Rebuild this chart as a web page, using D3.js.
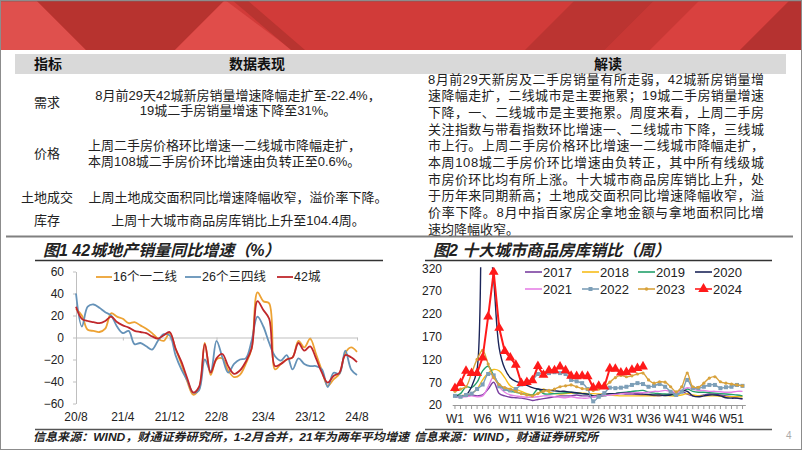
<!DOCTYPE html>
<html>
<head>
<meta charset="utf-8">
<script src="https://cdn.jsdelivr.net/npm/d3@7"></script>
<style>
body{margin:0;background:#fff;}
svg{display:block;font-family:"Liberation Sans","Noto Sans CJK SC",sans-serif;}
</style>
</head>
<body>
<script>
// ---- 图1: 42城地产销量同比增速, 月度 20/8 - 24/8 ----
var monthTicks = ["20/8","21/4","21/12","22/8","23/4","23/12","24/8"];
var tier12 = [26,20,7,6,5,8,22,19,17,13, 14,11,8,4,-1,-3,4,-10,-24,-40,
              -52,-47,-5,-34,-20,-19,-30,-36,-34,-24, -10,41,33,31,-29,-24,-20,-18,-3,-9,
              -1,-15,-30,-44,-38,-33,-14,-9,-13];
var tier34 = [40,10,28,30,27,23,20,10,4,6, -6,-5,-8,-11,-3,3,2,-16,-29,-39,
              -50,-48,-20,-31,-3,-18,-32,-24,-20,-19, -3,19,10,-5,-17,-21,-16,-29,-19,-24,
              -26,-26,-29,-45,-32,-33,-12,-29,-34];
var city42 = [28,17,15,14,13,15,19,14,11,9, 6,5,4,1,-1,2,5,-10,-22,-37,
              -50,-45,-6,-32,-19,-15,-26,-33,-30,-22, -10,33,25,17,-26,-24,-20,-18,-5,-12,
              -8,-19,-32,-41,-35,-32,-16,-18,-22.4];
var leftNames = ["16个一二线","26个三四线","42城"];

// ---- 图2: 十大城市商品房库销比(周) ----
var weekLabels = ["W1","W6","W11","W16","W21","W26","W31","W36","W41","W46","W51"];
var y2017 = [38,38,40,42,40,42,55,70,45,40, 37,36,35,33,30,32,34,36,38,40, 40,40,42,40,40,38,40,42,44,45,
             45,44,44,43,42,42,41,40,42,45, 48,50,44,40,40,42,44,44,42,40, 38,35,33];
var y2018 = [40,40,42,45,55,75,90,98,95,80, 62,55,50,45,42,45,55,48,45,44, 45,46,47,46,45,45,44,43,42,41,
             40,40,40,40,40,40,40,41,41,40, 40,42,45,42,40,40,40,40,39,38, 38,38,38];
var y2019 = [40,45,60,58,70,95,105,85,65,55, 50,48,45,43,42,55,45,44,45,46, 47,48,46,45,44,40,38,40,43,45,
             47,48,50,51,52,48,46,45,44,43, 42,48,55,50,48,48,47,46,45,44, 43,42,40];
var y2020 = [40,40,42,60,98,600,420,295,145,100, 80,72,68,63,58,55,53,52,51,50, 50,48,47,45,44,40,42,44,45,45,
             46,47,46,45,44,43,42,42,41,42, 48,52,50,40,38,40,42,42,40,36, 35,35,34];
var y2021 = [38,38,38,40,38,40,60,82,60,48, 42,40,38,37,37,38,40,40,38,37, 36,38,36,35,35,38,40,40,42,43,
             45,46,46,47,47,48,50,50,52,50, 48,52,58,55,52,52,50,50,49,48, 48,50,50];
var y2022 = [40,38,42,45,55,65,88,85,61,55, 52,55,65,72,75,88,90,90,92,90, 88,75,72,68,55,28,38,46,58,57,
             58,60,64,68,66,60,62,66,60,49, 42,49,75,57,57,60,64,64,57,59, 60,64,62];
var y2023 = [50,55,60,90,120,140,110,80,65,58, 55,50,45,42,40,45,50,52,55,60, 62,64,60,56,55,52,55,60,70,80,
             85,82,84,88,90,75,68,71,70,60, 49,60,90,60,59,68,79,82,71,68, 66,64,62];
var y2024 = [57,68,95,90,90,124,214,312,189,138, 124,108,68,70,74,105,86,96,96,104, 96,84,83,84,83,58,62,60,100,99,
             91,92,97,101,104.4];
var years = ["2017","2018","2019","2020","2021","2022","2023","2024"];
var yearColors = ["#7a3fa0","#f7bd1a","#23a06a","#1c2559","#e681e6","#7d9fb8","#d8a23c","#ff1a1a"];

// ---- 表格文字 ----
var rowNames = ["需求","价格","土地成交","库存"];
var dataLines = [
  ["8月前29天42城新房销量增速降幅走扩至-22.4%，","19城二手房销量增速下降至31%。"],
  ["上周二手房价格环比增速一二线城市降幅走扩，","本周108城二手房价环比增速由负转正至0.6%。"],
  ["上周土地成交面积同比增速降幅收窄，溢价率下降。"],
  ["上周十大城市商品房库销比上升至104.4周。"]
];
var readLines = [
  "8月前29天新房及二手房销量有所走弱，42城新房销量增",
  "速降幅走扩，二线城市是主要拖累；19城二手房销量增速",
  "下降，一、二线城市是主要拖累。周度来看，上周二手房",
  "关注指数与带看指数环比增速一、二线城市下降，三线城",
  "市上行。上周二手房价格环比增速一二线城市降幅走扩，",
  "本周108城二手房价环比增速由负转正，其中所有线级城",
  "市房价环比均有所上涨。十大城市商品房库销比上升，处",
  "于历年来同期新高；土地成交面积同比增速降幅收窄，溢",
  "价率下降。8月中指百家房企拿地金额与拿地面积同比增",
  "速均降幅收窄。"
];

var W = 802, H = 451;
var svg = d3.select("body").append("svg").attr("width", W).attr("height", H);

//banner
var banner = svg.append("g");
banner.append("rect").attr("width", W).attr("height", 50).attr("fill", "#d13b39");
var shapes = [
  {p:[[0,0],[36,0],[86,50],[0,50]], c:"#df504d"},
  {p:[[36,0],[225,0],[175,50],[86,50]], c:"#b7332f"},
  {p:[[225,0],[292,50],[175,50]], c:"#e04d4a"},
  {p:[[232,0],[247,0],[305,50],[291,50]], c:"#b83430"},
  {p:[[575,0],[655,0],[605,50],[525,50]], c:"#bb3431"},
  {p:[[655,0],[700,0],[650,50],[605,50]], c:"#c83835"},
  {p:[[700,0],[790,0],[740,50],[650,50]], c:"#d9413f"},
  {p:[[790,0],[802,0],[802,50],[740,50]], c:"#b53230"}
];
banner.selectAll("polygon").data(shapes).enter().append("polygon")
  .attr("points", d => d.p.map(q => q.join(",")).join(" "))
  .attr("fill", d => d.c);
banner.append("rect").attr("width", W).attr("height", 2).attr("fill", "#8a5a5a").attr("opacity", 0.5);

// page border
svg.append("rect").attr("x", 0.5).attr("y", 0.5).attr("width", W - 1).attr("height", 449)
  .attr("fill", "none").attr("stroke", "#8c8c8c");

// table
svg.append("rect").attr("x", 15).attr("y", 54).attr("width", 771).attr("height", 20).attr("fill", "#d9d9d9");
var heads = [["指标",48],["数据表现",257],["解读",608]];
svg.selectAll(".head").data(heads).enter().append("text")
  .attr("x", d => d[1]).attr("y", 64).attr("dy", "0.35em")
  .attr("text-anchor", "middle").attr("font-size", "14px").attr("font-weight", "bold")
  .attr("fill", "#111").text(d => d[0]);

var rowY = [[95,110],[145,161],[197],[220]];
svg.selectAll(".rowname").data(rowNames).enter().append("text")
  .attr("x", 47).attr("y", (d,i) => d3.mean(rowY[i])).attr("dy", "0.35em")
  .attr("text-anchor", "middle").attr("font-size", "13px").attr("fill", "#222").text(d => d);

dataLines.forEach((lines, i) => {
  lines.forEach((t, j) => {
    var tx = svg.append("text").attr("y", rowY[i][j]).attr("dy", "0.35em")
      .attr("font-size", "13px").attr("fill", "#222").text(t);
    if (i == 1) tx.attr("x", 88);
    else tx.attr("x", 238).attr("text-anchor", "middle");
  });
});

readLines.forEach((t, i) => {
  var tx = svg.append("text").attr("x", 428).attr("y", 79 + i * 16.7).attr("dy", "0.35em")
    .attr("font-size", "13px").attr("fill", "#222").text(t);
  if (i < readLines.length - 1) tx.attr("textLength", 336).attr("lengthAdjust", "spacing");
});

svg.append("line").attr("x1", 6).attr("x2", 793).attr("y1", 236.5).attr("y2", 236.5)
  .attr("stroke", "#808080").attr("stroke-width", 2);

// chart titles + rules
var titles = [["图1 42城地产销量同比增速（%）", 43, 35, 383], ["图2 十大城市商品房库销比（周）", 433, 425, 772]];
titles.forEach(t => {
  svg.append("text").attr("x", t[1]).attr("y", 250).attr("dy", "0.35em")
    .attr("font-size", "16px").attr("font-style", "italic").attr("font-weight", "bold")
    .attr("fill", "#222").text(t[0]);
  svg.append("line").attr("x1", t[2]).attr("x2", t[3]).attr("y1", 260.5).attr("y2", 260.5)
    .attr("stroke", "#333").attr("stroke-width", 1.3);
  svg.append("line").attr("x1", t[2]).attr("x2", t[3]).attr("y1", 429.5).attr("y2", 429.5)
    .attr("stroke", "#555").attr("stroke-width", 1.3);
});

function styleAxis(g) {
  g.attr("font-family", null).attr("font-size", null);
  g.selectAll("text").attr("font-size", "12px").attr("fill", "#222");
  g.selectAll("path.domain").attr("stroke", "#bfbfbf");
  g.selectAll(".tick line").attr("stroke", "#bfbfbf");
}

// ---------- 图1 ----------
var xL = d3.scaleLinear().domain([0, 48]).range([76, 357]);
var yL = d3.scaleLinear().domain([-60, 60]).range([403.5, 271.5]);
var chart1 = svg.append("g");

chart1.append("g").attr("transform", "translate(76,0)")
  .call(d3.axisLeft(yL).tickValues(d3.range(-60, 61, 20)).tickSize(3).tickPadding(9).tickSizeOuter(0))
  .call(styleAxis);
chart1.append("g").attr("transform", "translate(0," + yL(0) + ")")
  .call(d3.axisBottom(xL).tickValues(d3.range(0, 49, 8)).tickSize(3).tickSizeOuter(0).tickFormat(""))
  .call(styleAxis);
chart1.selectAll(".mlab").data(monthTicks).enter().append("text")
  .attr("x", (d,i) => xL(i * 8)).attr("y", 417).attr("dy", "0.35em")
  .attr("text-anchor", "middle").attr("font-size", "12px").attr("fill", "#222").text(d => d);

var leftSeries = [tier12, tier34, city42];
var leftColors = ["#eda233","#6592b8","#c0282c"];
var lineL = d3.line().x((d,i) => xL(i)).y(d => yL(d)).curve(d3.curveCatmullRom.alpha(0.5));
chart1.selectAll(".sl").data(leftSeries).enter().append("path")
  .attr("d", lineL).attr("fill", "none")
  .attr("stroke", (d,i) => leftColors[i]).attr("stroke-width", 1.8);

var legL = [96, 185, 277];
leftNames.forEach((n, i) => {
  chart1.append("line").attr("x1", legL[i]).attr("x2", legL[i] + 16).attr("y1", 277).attr("y2", 277)
    .attr("stroke", leftColors[i]).attr("stroke-width", 1.8);
  chart1.append("text").attr("x", legL[i] + 17).attr("y", 277).attr("dy", "0.35em")
    .attr("font-size", "12.5px").attr("fill", "#222").text(n);
});

// ---------- 图2 ----------
var weeks = d3.range(1, 54).map(d => "W" + d);
var xR = d3.scaleBand().domain(weeks).range([452.2, 745.3]);
var yR = d3.scaleLinear().domain([20, 320]).range([405, 268.3]);
var cx = w => xR("W" + w) + xR.bandwidth() / 2;
var chart2 = svg.append("g");

chart2.append("defs").append("clipPath").attr("id", "clipR")
  .append("rect").attr("x", 440).attr("y", yR(320) - 1).attr("width", 320).attr("height", yR(20) - yR(320) + 2);

chart2.append("g").attr("transform", "translate(448,0)")
  .call(d3.axisLeft(yR).tickValues(d3.range(20, 321, 50)).tickSize(0).tickPadding(6))
  .call(styleAxis).call(g => g.select(".domain").remove());
var xAxR = chart2.append("g").attr("transform", "translate(0," + yR(20) + ")")
  .call(d3.axisBottom(xR).tickSize(4).tickSizeOuter(0).tickPadding(5)
    .tickFormat(d => weekLabels.indexOf(d) >= 0 ? d : ""))
  .call(styleAxis);
xAxR.selectAll(".tick line").attr("stroke", "#999");
xAxR.select(".domain").attr("stroke", "#999");

var rightSeries = [y2017, y2018, y2019, y2020, y2021, y2022, y2023, y2024];
var plot = chart2.append("g").attr("clip-path", "url(#clipR)");
rightSeries.forEach((s, k) => {
  var ln = d3.line().x((d,i) => cx(i + 1)).y(d => yR(d))
    .curve(k == 7 ? d3.curveLinear : d3.curveCatmullRom.alpha(0.5));
  plot.append("path").datum(s).attr("d", ln).attr("fill", "none")
    .attr("stroke", yearColors[k]).attr("stroke-width", k == 7 ? 2 : 1.4);
  if (k == 5) {
    plot.selectAll(".sq").data(s).enter().append("rect")
      .attr("x", (d,i) => cx(i + 1) - 2).attr("y", d => yR(d) - 2)
      .attr("width", 4).attr("height", 4).attr("fill", yearColors[k]);
  }
  if (k == 6) {
    plot.selectAll(".dt").data(s).enter().append("circle")
      .attr("cx", (d,i) => cx(i + 1)).attr("cy", d => yR(d)).attr("r", 1.6).attr("fill", yearColors[k]);
  }
  if (k == 7) {
    plot.selectAll(".tri").data(s).enter().append("path")
      .attr("d", d3.symbol().type(d3.symbolTriangle).size(42))
      .attr("transform", (d,i) => "translate(" + cx(i + 1) + "," + yR(d) + ")")
      .attr("fill", yearColors[k]);
  }
});

var legX = [525, 582, 638, 695], legY = [272, 289];
years.forEach((y, k) => {
  var lx = legX[k % 4], ly = legY[Math.floor(k / 4)];
  chart2.append("line").attr("x1", lx).attr("x2", lx + 17).attr("y1", ly).attr("y2", ly)
    .attr("stroke", yearColors[k]).attr("stroke-width", 1.6);
  if (k == 5) chart2.append("rect").attr("x", lx + 6.5).attr("y", ly - 2).attr("width", 4).attr("height", 4).attr("fill", yearColors[k]);
  if (k == 6) chart2.append("circle").attr("cx", lx + 8.5).attr("cy", ly).attr("r", 1.8).attr("fill", yearColors[k]);
  if (k == 7) chart2.append("path").attr("d", d3.symbol().type(d3.symbolTriangle).size(48))
    .attr("transform", "translate(" + (lx + 8.5) + "," + ly + ")").attr("fill", yearColors[k]);
  chart2.append("text").attr("x", lx + 18).attr("y", ly).attr("dy", "0.35em")
    .attr("font-size", "13px").attr("fill", "#222").text(y);
});

// footer
svg.append("text").attr("x", 33).attr("y", 437).attr("dy", "0.35em")
  .attr("font-size", "11.5px").attr("font-style", "italic").attr("font-weight", "bold").attr("fill", "#222")
  .attr("textLength", 376).attr("lengthAdjust", "spacingAndGlyphs")
  .text("信息来源：WIND，财通证券研究所，1-2月合并，21年为两年平均增速");
svg.append("text").attr("x", 414).attr("y", 437).attr("dy", "0.35em")
  .attr("font-size", "11.5px").attr("font-style", "italic").attr("font-weight", "bold").attr("fill", "#222")
  .attr("textLength", 184).attr("lengthAdjust", "spacingAndGlyphs")
  .text("信息来源：WIND，财通证券研究所");
svg.append("text").attr("x", 786).attr("y", 435).attr("dy", "0.35em")
  .attr("font-size", "10px").attr("fill", "#aaa").text("4");
</script>
</body>
</html>
